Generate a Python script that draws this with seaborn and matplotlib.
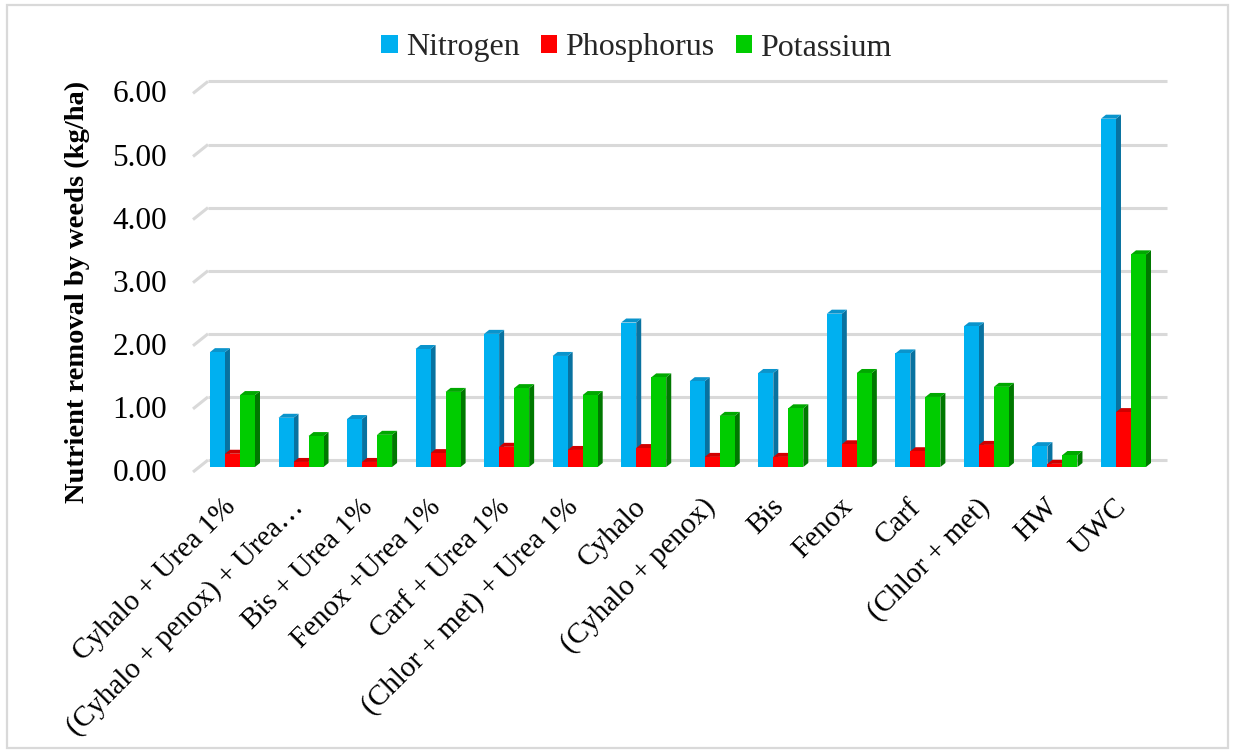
import numpy as np
import pandas as pd
import matplotlib
matplotlib.use("Agg")
import matplotlib.pyplot as plt
import matplotlib.transforms as mtransforms
from matplotlib.patches import Polygon, Rectangle
import seaborn as sns

treatments = [
    "Cyhalo + Urea 1%",
    "(Cyhalo + penox) + Urea…",
    "Bis + Urea 1%",
    "Fenox +Urea 1%",
    "Carf + Urea 1%",
    "(Chlor + met) + Urea 1%",
    "Cyhalo",
    "(Cyhalo + penox)",
    "Bis",
    "Fenox",
    "Carf",
    "(Chlor + met)",
    "HW",
    "UWC",
]
nitrogen = [1.82, 0.78, 0.76, 1.87, 2.11, 1.76, 2.29, 1.36, 1.49, 2.43, 1.80, 2.23, 0.33, 5.52]
phosphorus = [0.21, 0.08, 0.08, 0.22, 0.32, 0.27, 0.30, 0.16, 0.16, 0.36, 0.25, 0.35, 0.05, 0.87]
potassium = [1.14, 0.49, 0.51, 1.19, 1.25, 1.14, 1.42, 0.81, 0.93, 1.49, 1.11, 1.27, 0.19, 3.37]
nutrients = ["Nitrogen", "Phosphorus", "Potassium"]
y_ticks = [0, 1, 2, 3, 4, 5, 6]

front_colors = {"Nitrogen": "#00B0F0", "Phosphorus": "#FF0000", "Potassium": "#00CC00"}
side_colors = {"Nitrogen": "#0872A0", "Phosphorus": "#B00000", "Potassium": "#007800"}
top_colors = {"Nitrogen": "#0A94CC", "Phosphorus": "#D00000", "Potassium": "#00A800"}

df = pd.DataFrame({
    "Treatment": treatments * 3,
    "Nutrient": np.repeat(nutrients, len(treatments)),
    "Value": nitrogen + phosphorus + potassium,
})

sns.set_theme(style="white")
SERIF = ["Liberation Serif", "DejaVu Serif"]
plt.rcParams["font.family"] = SERIF

W, H = 1235, 753
fig = plt.figure(figsize=(W / 100, H / 100), dpi=100)

# axes frame in pixels: front-left floor corner to front-right, value 0 .. 6
left_px, right_px, base_px, px_per_unit = 193, 1152, 467, 63.1
top_px = base_px - 6 * px_per_unit
ax = fig.add_axes([left_px / W, 1 - base_px / H, (right_px - left_px) / W,
                   (base_px - top_px) / H])

sns.barplot(data=df, x="Treatment", y="Value", hue="Nutrient", order=treatments,
            hue_order=nutrients, palette=front_colors, width=0.657, saturation=1,
            dodge=True, gap=0, errorbar=None, edgecolor="none", linewidth=0,
            legend=True, ax=ax, zorder=3)

ax.set_xlim(-0.576, 13.416)
ax.set_ylim(0, 6)
ax.set_xlabel("")
ax.set_ylabel("")
for s in ax.spines.values():
    s.set_visible(False)
ax.grid(False)

# pixel size of one data unit
ux = (right_px - left_px) / (13.416 + 0.576)
uy = px_per_unit

# extruded side and top faces for the 3D look
depth_x, depth_y = 5, 4
ddx, ddy = depth_x / ux, depth_y / uy
for container, name in zip(ax.containers, nutrients):
    for bar in container:
        x0 = bar.get_x()
        x1 = x0 + bar.get_width()
        h = bar.get_height()
        side = Polygon([(x1, 0), (x1 + ddx, ddy), (x1 + ddx, h + ddy), (x1, h)],
                       closed=True, facecolor=side_colors[name], edgecolor="none", zorder=2)
        top = Polygon([(x0, h), (x0 + ddx, h + ddy), (x1 + ddx, h + ddy), (x1, h)],
                      closed=True, facecolor=top_colors[name], edgecolor="none", zorder=2)
        ax.add_patch(side)
        ax.add_patch(top)

# back-wall gridlines with the left-wall diagonal
grid_col = "#D9D9D9"
back = mtransforms.ScaledTranslation(15 / 100, 7 / 100, fig.dpi_scale_trans)
for v in y_ticks:
    ax.plot([-0.576, 13.416], [v, v], color=grid_col, lw=2.2, zorder=1,
            transform=ax.transData + back, clip_on=False, solid_capstyle="butt")
    ax.plot([-0.576, -0.576 + 15 / ux], [v - 5 / uy, v + 7 / uy], color=grid_col,
            lw=2.2, zorder=1, clip_on=False, solid_capstyle="butt")

ax.set_yticks(y_ticks)
ax.set_yticklabels([f"{v:.2f}" for v in y_ticks], fontfamily=SERIF)
ax.tick_params(axis="y", length=0, pad=26 * 0.72, labelsize=22.5, colors="black")
ax.tick_params(axis="x", length=0, pad=36 * 0.72, labelsize=21, colors="black")
ax.set_xticks(range(len(treatments)))
ax.set_xticklabels(treatments, fontfamily=SERIF)
x_shift = mtransforms.ScaledTranslation(-1 / 100, 0, fig.dpi_scale_trans)
for lab in ax.get_xticklabels():
    lab.set_rotation(45)
    lab.set_ha("right")
    lab.set_va("center")
    lab.set_rotation_mode("anchor")
    lab.set_fontfamily(SERIF)
    lab.set_transform(lab.get_transform() + x_shift)
y_shift = mtransforms.ScaledTranslation(0, -3 / 100, fig.dpi_scale_trans)
for lab in ax.get_yticklabels():
    lab.set_fontfamily(SERIF)
    lab.set_transform(lab.get_transform() + y_shift)

# legend across the top
handles, labels = ax.get_legend_handles_labels()
ax.legend_.remove()
fig.legend(handles, labels, loc="center", bbox_to_anchor=(0.5 + 19 / W, 1 - 48 / H),
           ncol=3, frameon=False, prop={"family": SERIF, "size": 23}, handlelength=0.52,
           handleheight=0.52, handletextpad=0.25, columnspacing=0.66, borderaxespad=0)

fig.text(77 / W, 1 - 292 / H, "Nutrient removal by weeds (kg/ha)", rotation=90,
         ha="center", va="center", fontsize=20.5, fontweight="bold", color="black",
         fontfamily=SERIF)

# light chart border
fig.patches.append(Rectangle((7 / W, 1 - 748 / H), (1228 - 7) / W, (748 - 5) / H,
                             transform=fig.transFigure, fill=False,
                             edgecolor="#D9D9D9", lw=1.6))

fig.savefig("out.png", dpi=100)
